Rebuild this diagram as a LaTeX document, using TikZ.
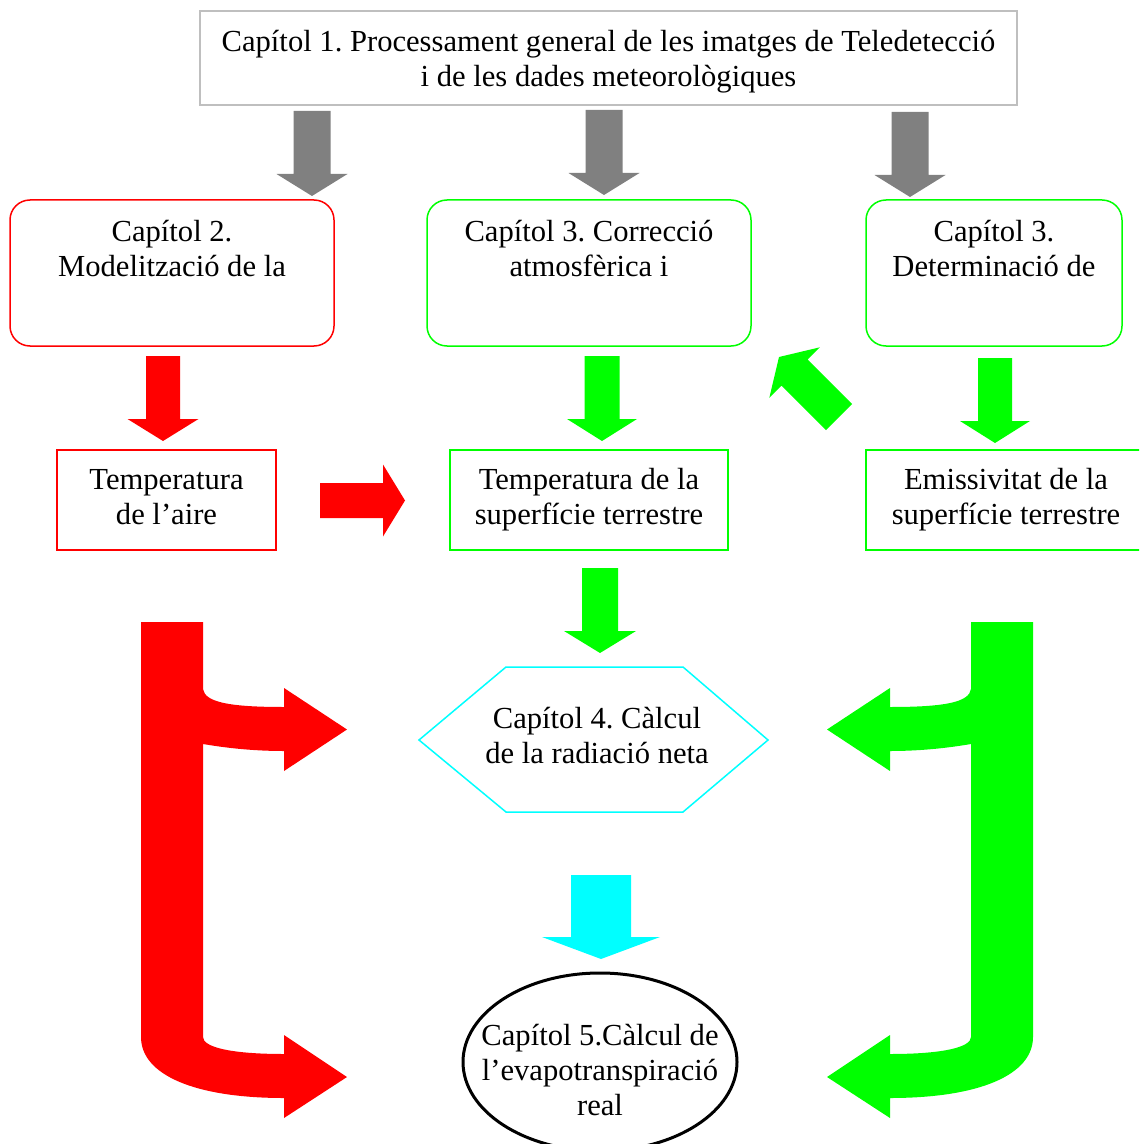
\documentclass[tikz,border=0pt]{standalone}
\usepackage{fontspec}
\setmainfont{Liberation Serif}
\usetikzlibrary{calc,shapes.geometric}
\definecolor{arrowgray}{RGB}{128,128,128}
\definecolor{framegray}{RGB}{191,191,191}
\definecolor{vivgreen}{RGB}{0,255,0}
\definecolor{vivcyan}{RGB}{0,255,255}
\frenchspacing
\newcommand{\toptext}[2]{\parbox[c][73pt][t]{#1}{\centering\vspace*{10pt}#2}}
\newcommand{\blockarrow}[5]{%
  \coordinate (hb) at ($(#3)!11pt!(#2)$);
  \fill[#1] ($(#2)!#4!90:(#3)$) -- ($(hb)!#4!90:(#3)$) -- ($(hb)!#5!90:(#3)$) -- (#3)
    -- ($(hb)!#5!-90:(#3)$) -- ($(hb)!#4!-90:(#3)$) -- ($(#2)!#4!-90:(#3)$) -- cycle;}
\newcommand{\bendpath}{(141,622) -- (203,622) -- (203,689) .. controls (205,702) and (228,707) .. (284,707)
  -- (284,688) -- (347,729.5) -- (284,771) -- (284,751) .. controls (245,751) and (215,746) .. (203,744)
  -- (203,1037) .. controls (203,1047) and (230,1054) .. (284,1054) -- (284,1035) -- (347,1077)
  -- (284,1118) -- (284,1098) .. controls (195,1098) and (141,1075) .. (141,1037) -- cycle}
\begin{document}
\begin{tikzpicture}[x=0.5pt, y=-0.5pt, font=\fontsize{15.3pt}{17.5pt}\selectfont,
  capbox/.style={draw=#1, line width=0.75pt, rounded corners=10pt, inner sep=0pt, minimum width=162pt},
  databox/.style={draw=#1, line width=0.75pt, align=center, minimum height=50pt}]
\useasboundingbox (0,0) rectangle (1139,1144);
\clip (0,0) rectangle (1139,1144);
\node[draw=framegray, line width=1pt, align=center, minimum width=408.5pt, minimum height=47pt] (cap1) at (608.5,58) {\rule{0pt}{14pt}Capítol 1. Processament general de les imatges de Teledetecció\\i de les dades meteorològiques};
\node[capbox=red] (cap2) at (172,273) {\toptext{150pt}{Capítol 2.\\Modelització de la}};
\node[capbox=vivgreen] (cap3a) at (589,273) {\toptext{150pt}{Capítol 3. Correcció\\atmosfèrica i}};
\node[capbox=vivgreen, minimum width=128pt] (cap3b) at (994,273) {\toptext{120pt}{Capítol 3.\\Determinació de}};
\node[databox=red, minimum width=109.5pt] (tair) at (166.5,500) {Temperatura\\de l’aire\vphantom{p}};
\node[databox=vivgreen, minimum width=139pt] (tsup) at (589,500) {Temperatura de la\\superfície terrestre};
\node[databox=vivgreen, minimum width=140pt] (emis) at (1006,500) {Emissivitat de la\\superfície terrestre};
\node[align=center] (cap4) at (597,736) {Capítol 4. Càlcul\\de la radiació neta};
\draw[vivcyan, line width=0.75pt] (419,740) -- (506,667) -- (683,667) -- (768,740) -- (683,812) -- (506,812) -- cycle;
\node[draw, ellipse, line width=1.5pt, inner sep=0pt, minimum width=137pt, minimum height=89pt,
  label={[align=center, yshift=-4pt]center:{Capítol 5.Càlcul de\\l’evapotranspiració\\real}}] (cap5) at (600,1062) {};
\blockarrow{arrowgray}{312,111}{312,196}{9.25pt}{17.75pt}
\blockarrow{arrowgray}{604,110}{604,195}{9.25pt}{17.75pt}
\blockarrow{arrowgray}{910,112}{910,197}{9.25pt}{17.75pt}
\blockarrow{red}{163,356}{163,441}{8.5pt}{17.75pt}
\blockarrow{vivgreen}{602,356}{602,441}{8.75pt}{17.5pt}
\blockarrow{vivgreen}{995,358}{995,443}{8.5pt}{17.5pt}
\blockarrow{vivgreen}{839,417}{779,357}{9.2pt}{17.85pt}
\blockarrow{red}{320,500.5}{405,500.5}{8.75pt}{18pt}
\blockarrow{vivgreen}{600,568}{600,653}{9pt}{18pt}
\blockarrow{vivcyan}{601,875}{601,959}{15pt}{29.5pt}
\fill[red] \bendpath;
\fill[vivgreen, shift={(1174,0)}, xscale=-1] \bendpath;
\end{tikzpicture}
\end{document}
